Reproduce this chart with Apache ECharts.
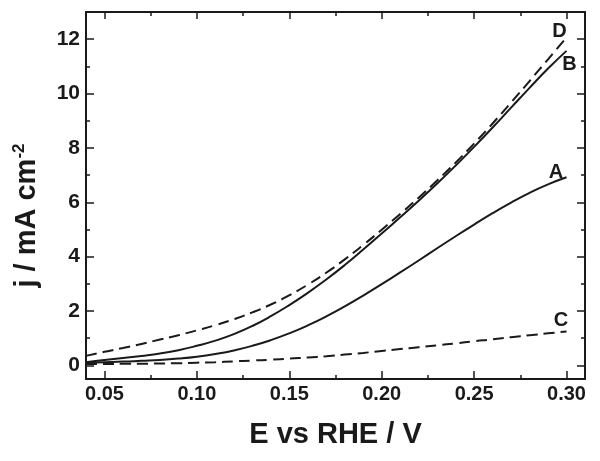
<!DOCTYPE html>
<html>
<head>
<meta charset="utf-8">
<script src="https://cdn.jsdelivr.net/npm/echarts@6/dist/echarts.min.js"></script>
<style>html,body{margin:0;padding:0;background:#fff}#chart{width:600px;height:461px}</style>
</head>
<body>
<div id="chart"></div>
<script>
// Potential E vs RHE / V
var potential = [0.04,0.05,0.06,0.07,0.08,0.09,0.10,0.11,0.12,0.13,0.14,0.15,0.16,0.17,0.18,0.19,0.20,0.21,0.22,0.23,0.24,0.25,0.26,0.27,0.28,0.29,0.30];
// Current density j / mA cm-2
var curveA = [0.10,0.12,0.14,0.17,0.20,0.25,0.32,0.42,0.55,0.72,0.93,1.18,1.47,1.80,2.17,2.57,2.99,3.42,3.86,4.31,4.75,5.18,5.60,5.99,6.35,6.66,6.92];
var curveB = [0.12,0.20,0.27,0.35,0.44,0.56,0.72,0.91,1.15,1.45,1.81,2.22,2.67,3.16,3.69,4.26,4.85,5.45,6.06,6.69,7.35,8.04,8.75,9.48,10.21,10.92,11.57];
var curveC = [0.05,0.05,0.06,0.06,0.07,0.08,0.10,0.12,0.15,0.18,0.21,0.25,0.29,0.34,0.40,0.46,0.53,0.60,0.67,0.74,0.81,0.89,0.96,1.04,1.11,1.18,1.25];
var curveD = [0.35,0.50,0.64,0.79,0.95,1.11,1.29,1.48,1.70,1.95,2.24,2.58,2.97,3.41,3.90,4.43,4.99,5.57,6.17,6.80,7.46,8.16,8.90,9.67,10.46,11.26,12.06];
// Curve labels
var labelNames = ['A','B','C','D'];
var labelX = [0.2943,0.3016,0.2970,0.2962];
var labelY = [7.10,11.06,1.66,12.27];
// Axis ticks
var xMajor = [0.05,0.10,0.15,0.20,0.25,0.30];
var xMinor = [0.075,0.125,0.175,0.225,0.275];
var yMajor = [0,2,4,6,8,10,12];
var yMinor = [1,3,5,7,9,11];

function pairs(ys){ return potential.map(function(x,i){ return [x, ys[i]]; }); }

var FONT = '"Liberation Sans", Arial, sans-serif';
var INK = '#1a1a1a';
var X_MIN = 0.04, X_MAX = 0.31, Y_MIN = -0.5, Y_MAX = 13;

function xAx(pos, ticks, len, main){
  return {
    type:'value', position:pos, min:X_MIN, max:X_MAX,
    axisLine:{show:main, onZero:false, lineStyle:{color:INK, width:2}},
    axisTick:{show:true, inside:true, length:len, customValues:ticks, lineStyle:{color:INK, width:1.5}},
    axisLabel:{show:false}, splitLine:{show:false}
  };
}
function yAx(pos, ticks, len, main){
  return {
    type:'value', position:pos, min:Y_MIN, max:Y_MAX,
    axisLine:{show:main, onZero:false, lineStyle:{color:INK, width:2}},
    axisTick:{show:true, inside:true, length:len, customValues:ticks, lineStyle:{color:INK, width:1.5}},
    axisLabel:{show:false}, splitLine:{show:false}
  };
}

var xAxes = [xAx('bottom', xMajor, 8, true), xAx('bottom', xMinor, 4, false), xAx('top', xMajor, 7, true), xAx('top', xMinor, 4, false)];
xAxes[0].axisLabel = {show:true, customValues:xMajor, margin:5, color:INK, fontFamily:FONT, fontWeight:'bold', fontSize:20,
  formatter:function(v){ return v.toFixed(2); }};
xAxes[0].name = 'E vs RHE / V';
xAxes[0].nameLocation = 'middle';
xAxes[0].nameGap = 41;
xAxes[0].nameTextStyle = {color:INK, fontFamily:FONT, fontWeight:'bold', fontSize:29};

var yAxes = [yAx('left', yMajor, 8, true), yAx('left', yMinor, 4, false), yAx('right', yMajor, 8, true), yAx('right', yMinor, 4, false)];
yAxes[0].axisLabel = {show:true, customValues:yMajor, margin:6, color:INK, fontFamily:FONT, fontWeight:'bold', fontSize:21};
yAxes[0].name = '{m|j / mA cm}{s|-2}';
yAxes[0].nameLocation = 'middle';
yAxes[0].nameGap = 44;
yAxes[0].nameTextStyle = {color:INK, fontFamily:FONT, fontWeight:'bold', fontSize:29, padding:[0,40,0,0],
  rich:{m:{fontFamily:FONT, fontWeight:'bold', fontSize:29, color:INK},
        s:{fontFamily:FONT, fontWeight:'bold', fontSize:17, color:INK, verticalAlign:'top', padding:[0,0,14,0]}}};

function line(name, ys, dashed){
  return {name:name, type:'line', xAxisIndex:0, yAxisIndex:0, data:pairs(ys), smooth:0.5, showSymbol:false,
    lineStyle:{color:INK, width:2, type: dashed ? [11,6] : 'solid'}, silent:true};
}

var chart = echarts.init(document.getElementById('chart'), null, {renderer:'canvas'});
chart.setOption({
  animation:false,
  backgroundColor:'#fff',
  grid:{left:86, right:15, top:12, bottom:82, containLabel:false},
  xAxis:xAxes,
  yAxis:yAxes,
  series:[
    line('A', curveA, false),
    line('B', curveB, false),
    line('C', curveC, true),
    line('D', curveD, true),
    {type:'scatter', xAxisIndex:0, yAxisIndex:0, symbolSize:0, silent:true, itemStyle:{color:INK, opacity:1},
     data: labelNames.map(function(n,i){ return {name:n, value:[labelX[i], labelY[i]]}; }),
     label:{show:true, position:'inside', formatter:'{b}', color:INK, opacity:1, textBorderWidth:0, fontFamily:FONT, fontWeight:'bold', fontSize:20}}
  ]
});
</script>
</body>
</html>
